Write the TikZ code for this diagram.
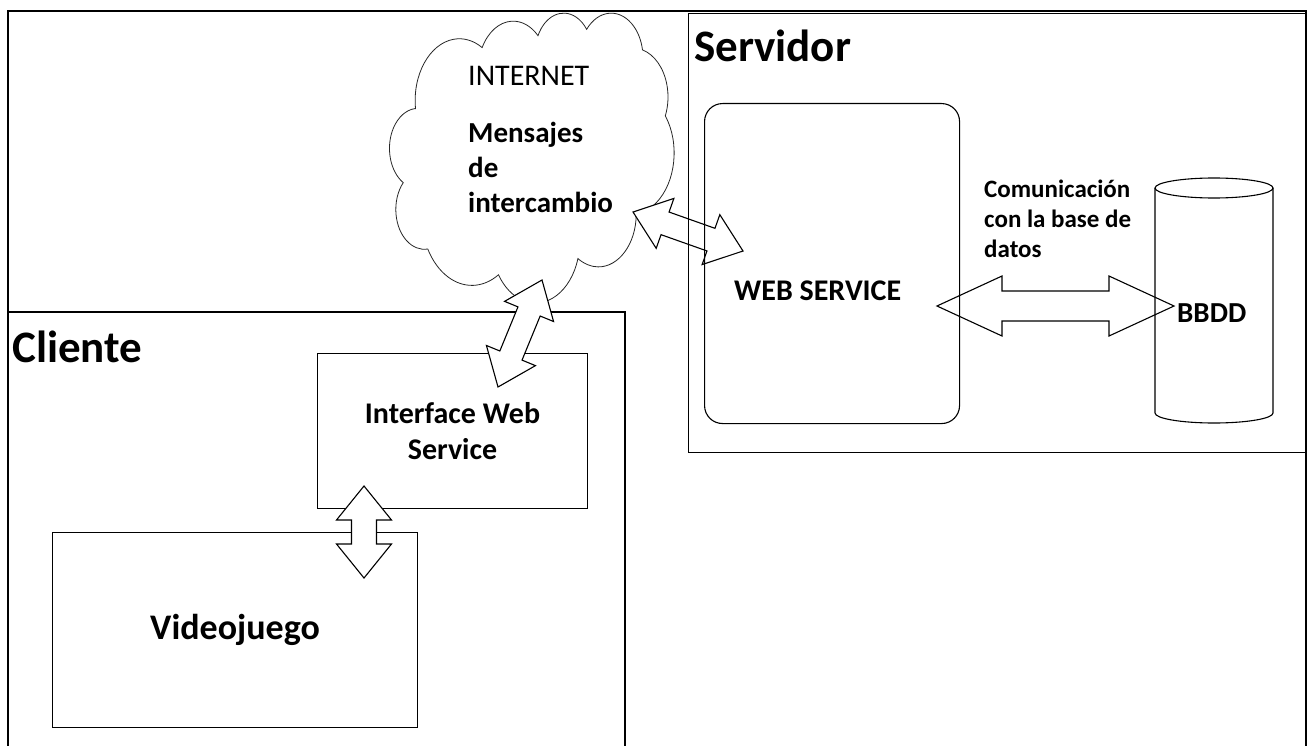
\documentclass[tikz,border=0pt]{standalone}
\usepackage{fontspec}
\setmainfont{Carlito}
\usetikzlibrary{calc}
\newcommand\fsz[2]{\fontsize{#1}{#2}\selectfont}
\tikzset{
  frameline/.style={draw=black, line width=1.1pt},
  box/.style={draw=black, line width=1.1pt, inner sep=0pt},
  blockarrow/.style={draw=black, fill=white, line width=1.1pt, line join=miter},
  cloudline/.style={draw=black!85, line width=0.8pt},
  lbl/.style={inner sep=0pt, text=black},
}
% block double arrow between two named coordinates
\newcommand\blockarr[5]{%
  \path ($(#1)!#3!(#2)$) coordinate (ba-h1) ($(#2)!#3!(#1)$) coordinate (ba-h2);
  \draw[blockarrow] (#1)
    -- ($(ba-h1)!#4!90:(#2)$) -- ($(ba-h1)!#5!90:(#2)$)
    -- ($(ba-h2)!#5!-90:(#1)$) -- ($(ba-h2)!#4!-90:(#1)$)
    -- (#2)
    -- ($(ba-h2)!#4!90:(#1)$) -- ($(ba-h2)!#5!90:(#1)$)
    -- ($(ba-h1)!#5!-90:(#2)$) -- ($(ba-h1)!#4!-90:(#2)$)
    -- cycle;}
% cloud arc preparation (visual angle -> parametric angle)
\def\cloudsx{0.006551}
\def\cloudsy{0.006736}
\newcommand\ooprep[5]{%
  \pgfmathsetmacro\tmprx{#2*\cloudsx}%
  \pgfmathsetmacro\tmpry{#3*\cloudsy}%
  \pgfmathsetmacro\tmpts{atan2(\tmprx*sin(#4),\tmpry*cos(#4))}%
  \pgfmathsetmacro\tmpte{atan2(\tmprx*sin(#4+#5),\tmpry*cos(#4+#5))}%
  \pgfmathsetmacro\tmpd{\tmpte-\tmpts}%
  \pgfmathsetmacro\tmpd{\tmpd-360*round((\tmpd-(#5))/360)}%
  \pgfmathsetmacro\tmpcs{-1*(\tmpts)}%
  \pgfmathsetmacro\tmpcd{-1*(\tmpd)}%
  \expandafter\xdef\csname oorx#1\endcsname{\tmprx}%
  \expandafter\xdef\csname oory#1\endcsname{\tmpry}%
  \expandafter\xdef\csname oocs#1\endcsname{\tmpcs}%
  \expandafter\xdef\csname oocd#1\endcsname{\tmpcd}%
}
\newcommand\ooarcs{}
\begin{document}
\begin{tikzpicture}[x=1pt,y=-1pt]
\useasboundingbox (0,0) rectangle (1308,746);
\clip (0,0) rectangle (1308,746);
\ooprep{A}{6753}{9190}{-190.48748}{123.78053}
\ooprep{B}{5333}{7267}{-144.10238}{89.94523}
\ooprep{C}{4365}{5945}{-145.80792}{99.72302}
\ooprep{D}{4857}{6595}{-130.98607}{117.24173}
\ooprep{E}{5333}{7273}{-78.70888}{109.02692}
\ooprep{F}{6775}{9220}{-46.26725}{130.26900}
\ooprep{G}{5785}{7867}{0.62502}{114.03333}
\ooprep{H}{6752}{9215}{22.45160}{115.17255}
\ooprep{I}{7720}{10543}{66.24263}{75.71102}
\ooprep{J}{4360}{5918}{-274.94208}{146.73557}
\ooprep{K}{4345}{5945}{-246.82850}{152.51885}
% outer frame
\draw[frameline] (8,760) -- (8,11) -- (1306,11) -- (1306,760);
% Cliente region
\draw[frameline] (8,312) -- (625,312) -- (625,760);
\node[lbl, anchor=base west, font=\fsz{45}{54}\bfseries] (cli) at (12,362) {Cliente};
\node[box, minimum width=270, minimum height=155, anchor=north west, align=center, font=\fsz{30}{36}\bfseries] (iface) at (317,353) {Interface Web\\Service};
\node[box, minimum width=365, minimum height=195, anchor=north west, font=\fsz{36}{43}\bfseries] (game) at (52,532) {Videojuego};
% cloud (INTERNET)
\coordinate (cloudstart) at ({390+3900*\cloudsx},{12+14370*\cloudsy});
\draw[cloudline] (cloudstart)
  arc[start angle=\oocsA, delta angle=\oocdA, x radius=\oorxA pt, y radius=\ooryA pt]
  arc[start angle=\oocsB, delta angle=\oocdB, x radius=\oorxB pt, y radius=\ooryB pt]
  arc[start angle=\oocsC, delta angle=\oocdC, x radius=\oorxC pt, y radius=\ooryC pt]
  arc[start angle=\oocsD, delta angle=\oocdD, x radius=\oorxD pt, y radius=\ooryD pt]
  arc[start angle=\oocsE, delta angle=\oocdE, x radius=\oorxE pt, y radius=\ooryE pt]
  arc[start angle=\oocsF, delta angle=\oocdF, x radius=\oorxF pt, y radius=\ooryF pt]
  arc[start angle=\oocsG, delta angle=\oocdG, x radius=\oorxG pt, y radius=\ooryG pt]
  arc[start angle=\oocsH, delta angle=\oocdH, x radius=\oorxH pt, y radius=\ooryH pt]
  arc[start angle=\oocsI, delta angle=\oocdI, x radius=\oorxI pt, y radius=\ooryI pt]
  arc[start angle=\oocsJ, delta angle=\oocdJ, x radius=\oorxJ pt, y radius=\ooryJ pt]
  arc[start angle=\oocsK, delta angle=\oocdK, x radius=\oorxK pt, y radius=\ooryK pt]
  -- cycle;
\node[lbl, anchor=base west, font=\fsz{30}{36}] (inet) at (468,86) {INTERNET};
\node[lbl, anchor=north west, align=left, font=\fsz{29}{35}\bfseries] (msg) at (468,122) {Mensajes\\de\\intercambio};
% arrows over the client side
\coordinate (a2s) at (542,280);
\coordinate (a2e) at (498,387);
\blockarr{a2s}{a2e}{34pt}{26.5pt}{12pt}
\coordinate (a4s) at (364,486);
\coordinate (a4e) at (364,578);
\blockarr{a4s}{a4e}{34pt}{27.5pt}{12.5pt}
% arrows behind server lines
\coordinate (a1s) at (633,212);
\coordinate (a1e) at (743,251);
\blockarr{a1s}{a1e}{34pt}{26.5pt}{12pt}
\coordinate (a3s) at (937,306);
\coordinate (a3e) at (1174,306);
\blockarr{a3s}{a3e}{65pt}{30pt}{15pt}
% Servidor region
\node[box, minimum width=617, minimum height=439, anchor=north west] (srv) at (688,13) {};
\node[lbl, anchor=base west, font=\fsz{45}{54}\bfseries] (srvtxt) at (694,62) {Servidor};
\node[box, rounded corners=18pt, minimum width=255, minimum height=320, anchor=north west] (ws) at (704,103) {};
\node[lbl, anchor=base west, font=\fsz{30}{36}\bfseries] (wstxt) at (734,300) {WEB SERVICE};
% database cylinder
\draw[frameline] (1155,188) -- (1155,413) arc[start angle=180, end angle=360, x radius=59pt, y radius=10pt] -- (1273,188);
\draw[frameline] (1214,188) ellipse [x radius=59pt, y radius=10pt];
\node[lbl, anchor=base west, font=\fsz{29}{35}\bfseries] (bbdd) at (1177,322) {BBDD};
\node[lbl, anchor=north west, align=left, font=\fsz{25}{30}\bfseries] (com) at (984,180) {Comunicación\\con la base de\\datos};
\end{tikzpicture}
\end{document}
